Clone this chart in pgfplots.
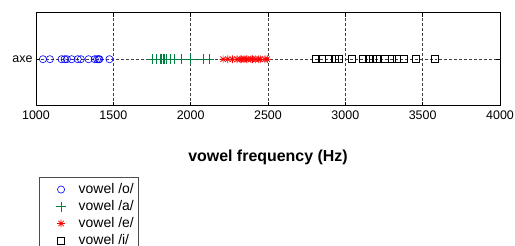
\documentclass[border=0pt]{standalone}
\usepackage{pgfplots}
\pgfplotsset{compat=1.18}
\usepackage{fontspec}
\setmainfont{Liberation Sans}
\definecolor{mgreen}{RGB}{0,128,64}
\pgfdeclareplotmark{ast8}{%
  \pgfpathmoveto{\pgfqpoint{-\pgfplotmarksize}{0pt}}%
  \pgfpathlineto{\pgfqpoint{\pgfplotmarksize}{0pt}}%
  \pgfpathmoveto{\pgfqpoint{0pt}{-\pgfplotmarksize}}%
  \pgfpathlineto{\pgfqpoint{0pt}{\pgfplotmarksize}}%
  \pgfpathmoveto{\pgfqpoint{-0.707\pgfplotmarksize}{-0.707\pgfplotmarksize}}%
  \pgfpathlineto{\pgfqpoint{0.707\pgfplotmarksize}{0.707\pgfplotmarksize}}%
  \pgfpathmoveto{\pgfqpoint{-0.707\pgfplotmarksize}{0.707\pgfplotmarksize}}%
  \pgfpathlineto{\pgfqpoint{0.707\pgfplotmarksize}{-0.707\pgfplotmarksize}}%
  \pgfusepathqstroke}
\begin{document}
\begin{tikzpicture}
\useasboundingbox (-36bp,-140.3bp) rectangle (479bp,105.7bp);
\begin{axis}[
  at={(0,0)}, anchor=south west,
  scale only axis, width=464bp, height=93bp,
  xmin=1000, xmax=4000, ymin=0, ymax=2,
  xtick={1000,1500,...,4000}, ytick={1}, yticklabels={axe},
  /pgf/number format/assume math mode=true,
  /pgf/number format/1000 sep={},
  tick label style={font=\fontsize{12.5}{14}\selectfont},
  xticklabel style={yshift=-2bp},
  tick align=inside, tick style={black, line width=0.6pt},
  major tick length=4bp,
  grid=major, grid style={densely dashed, black!75, line width=0.6pt},
  axis line style={black, line width=0.6pt},
  xlabel={\textbf{vowel frequency (Hz)}},
  xlabel style={font=\fontsize{16}{18}\selectfont, yshift=-23bp},
  legend style={at={(0.007,-0.767)}, anchor=north west, draw=black!70,
    font=\fontsize{14}{16}\selectfont, row sep=4bp, column sep=0pt,
    inner xsep=4bp, inner ysep=5.8bp,
    nodes={inner sep=0pt, text height=10bp, text depth=3bp}},
  legend cell align=left,
  legend image code/.code={%
    \path[draw=none, fill=none] (0bp,0bp) rectangle (35.3bp,0bp);
    \draw[#1] plot coordinates {(17.6bp,0bp)};},
  clip=false,
]
\addplot[only marks, mark=o, blue, mark size=3.6bp, line width=0.6pt] coordinates {
(1045,1)(1090,1)(1165,1)(1185,1)(1200,1)(1230,1)(1270,1)(1290,1)
(1340,1)(1380,1)(1395,1)(1405,1)(1410,1)(1475,1)};
\addlegendentry{vowel /o/}
\addplot[only marks, mark=+, mgreen, mark size=5bp, line width=0.6pt] coordinates {
(1750,1)(1780,1)(1805,1)(1812,1)(1820,1)(1830,1)(1840,1)(1870,1)(1895,1)
(1940,1)(2000,1)(2080,1)(2120,1)};
\addlegendentry{vowel /a/}
\addplot[only marks, mark=ast8, red, mark size=3.8bp, line width=0.7pt] coordinates {
(2210,1)(2240,1)(2270,1)(2300,1)(2320,1)(2330,1)(2345,1)(2360,1)(2370,1)
(2390,1)(2400,1)(2420,1)(2440,1)(2450,1)(2480,1)(2495,1)};
\addlegendentry{vowel /e/}
\addplot[only marks, mark=square, black, mark size=3.5bp, line width=0.6pt] coordinates {
(2810,1)(2850,1)(2890,1)(2930,1)(2960,1)(3040,1)(3115,1)(3150,1)(3180,1)
(3205,1)(3255,1)(3300,1)(3335,1)(3375,1)(3455,1)(3580,1)};
\addlegendentry{vowel /i/}
\end{axis}
\end{tikzpicture}
\end{document}
